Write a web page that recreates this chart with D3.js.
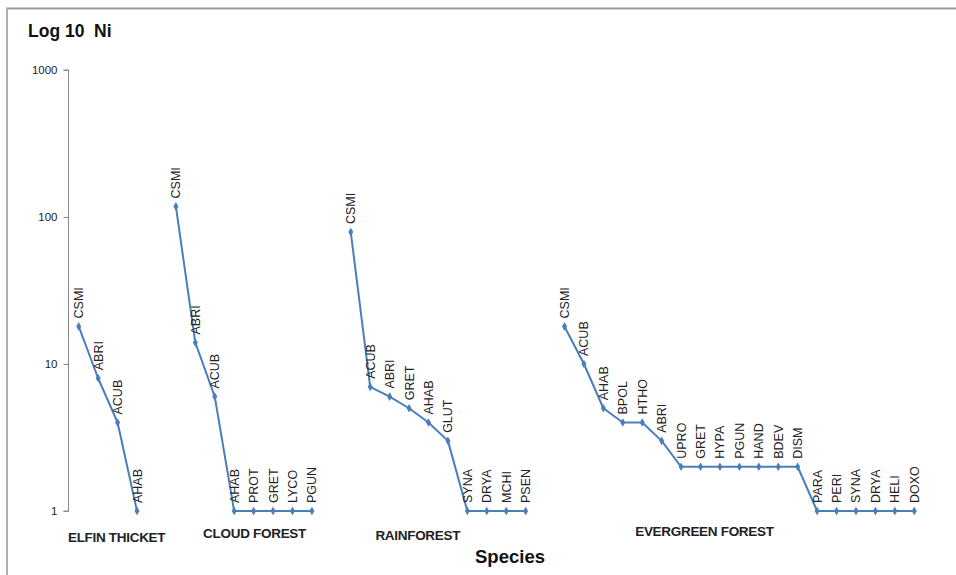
<!DOCTYPE html>
<html>
<head>
<meta charset="utf-8">
<script src="https://cdn.jsdelivr.net/npm/d3@7"></script>
<style>
  html, body { margin: 0; padding: 0; background: #fff; }
  svg { display: block; font-family: Arial, "Liberation Sans", sans-serif; }
</style>
</head>
<body>
<svg id="chart" width="956" height="575"></svg>
<script>
// ---- data ----
const groupNames = ["ELFIN THICKET", "CLOUD FOREST", "RAINFOREST", "EVERGREEN FOREST"];

const elfinSpecies = ["CSMI", "ABRI", "ACUB", "AHAB"];
const elfinValues  = [18, 8, 4, 1];

const cloudSpecies = ["CSMI", "ABRI", "ACUB", "AHAB", "PROT", "GRET", "LYCO", "PGUN"];
const cloudValues  = [118, 14, 6, 1, 1, 1, 1, 1];

const rainSpecies = ["CSMI", "ACUB", "ABRI", "GRET", "AHAB", "GLUT", "SYNA", "DRYA", "MCHI", "PSEN"];
const rainValues  = [79, 7, 6, 5, 4, 3, 1, 1, 1, 1];

const everSpecies = ["CSMI", "ACUB", "AHAB", "BPOL", "HTHO", "ABRI", "UPRO", "GRET", "HYPA", "PGUN",
                     "HAND", "BDEV", "DISM", "PARA", "PERI", "SYNA", "DRYA", "HELI", "DOXO"];
const everValues  = [18, 10, 5, 4, 4, 3, 2, 2, 2, 2, 2, 2, 2, 1, 1, 1, 1, 1, 1];

const yTickValues = [1, 10, 100, 1000];
const yTickLabels = ["1", "10", "100", "1000"];
const titleText = "Log 10  Ni";
const xAxisTitle = "Species";

// ---- layout ----
const W = 956, H = 575;
const plotLeft = 69, plotRight = 924, plotTop = 70, plotBottom = 511;
const lineColor = "#4a7ebb";
// fractional slot positions (layout) and baselines for the group captions
const groupLabelSlot = [2.45, 9.55, 17.95, 32.7];
const groupLabelY = [542, 538, 540, 536];

const svg = d3.select("#chart");

// border (top & left only, as in the reference)
svg.append("line").attr("x1", 6).attr("x2", W).attr("y1", 8.5).attr("y2", 8.5)
  .attr("stroke", "#9a9a9a").attr("stroke-width", 2);
svg.append("line").attr("x1", 7).attr("x2", 7).attr("y1", 8).attr("y2", H)
  .attr("stroke", "#b0b0b0").attr("stroke-width", 2);

// build series with one blank slot between groups
const seriesList = [
  {species: elfinSpecies, values: elfinValues},
  {species: cloudSpecies, values: cloudValues},
  {species: rainSpecies, values: rainValues},
  {species: everSpecies, values: everValues}
];
let slot = 0;
const groups = seriesList.map((s, gi) => {
  const pts = s.species.map((sp, i) => ({name: sp, value: s.values[i], slot: slot + i}));
  const g = {name: groupNames[gi], points: pts, start: slot};
  slot += s.species.length + 1;
  return g;
});
const nSlots = slot - 1;

const x = d3.scaleBand().domain(d3.range(nSlots)).range([plotLeft, plotRight]);
const y = d3.scaleLog().domain([1, 1000]).range([plotBottom, plotTop]);
const cx = i => x(i) + x.bandwidth() / 2;

// y axis
const yAxis = d3.axisLeft(y).tickValues(yTickValues)
  .tickFormat((d, i) => yTickLabels[i]).tickSize(5).tickPadding(6);
const ga = svg.append("g").attr("transform", `translate(${plotLeft - 0.5},0)`).call(yAxis);
ga.select(".domain").attr("stroke", "#888").attr("d", `M-5,${plotTop}H0V${plotBottom}H-5`);
ga.selectAll(".tick line").attr("stroke", "#888");
ga.selectAll(".tick text").attr("font-size", 11.5).attr("fill", "#222")
  .attr("font-family", "Arial, 'Liberation Sans', sans-serif");

// lines
const line = d3.line().x(d => cx(d.slot)).y(d => y(d.value));
groups.forEach(g => {
  svg.append("path").datum(g.points).attr("d", line)
    .attr("fill", "none").attr("stroke", lineColor).attr("stroke-width", 2)
    .attr("stroke-linejoin", "round");
  svg.selectAll(null).data(g.points).enter().append("path")
    .attr("d", d3.symbol().type(d3.symbolDiamond).size(22))
    .attr("transform", d => `translate(${cx(d.slot)},${y(d.value)})`)
    .attr("fill", lineColor);
  svg.selectAll(null).data(g.points).enter().append("text")
    .attr("transform", d => `translate(${cx(d.slot) + 4.5},${y(d.value) - 8}) rotate(-90)`)
    .attr("font-size", 12.5).attr("fill", "#222")
    .text(d => d.name);
});

// group captions
groups.forEach((g, gi) => {
  svg.append("text")
    .attr("x", plotLeft + groupLabelSlot[gi] * x.step())
    .attr("y", groupLabelY[gi])
    .attr("text-anchor", "middle")
    .attr("font-size", 13.5).attr("font-weight", "bold").attr("fill", "#222")
    .attr("letter-spacing", -0.3)
    .text(g.name);
});

// titles
svg.append("text").attr("x", 28).attr("y", 37)
  .attr("font-size", 17.5).attr("font-weight", "bold").attr("fill", "#111")
  .attr("xml:space", "preserve").style("white-space", "pre")
  .text(titleText);
svg.append("text").attr("x", 510).attr("y", 563).attr("text-anchor", "middle")
  .attr("font-size", 18.5).attr("font-weight", "bold").attr("fill", "#111")
  .text(xAxisTitle);
</script>
</body>
</html>
